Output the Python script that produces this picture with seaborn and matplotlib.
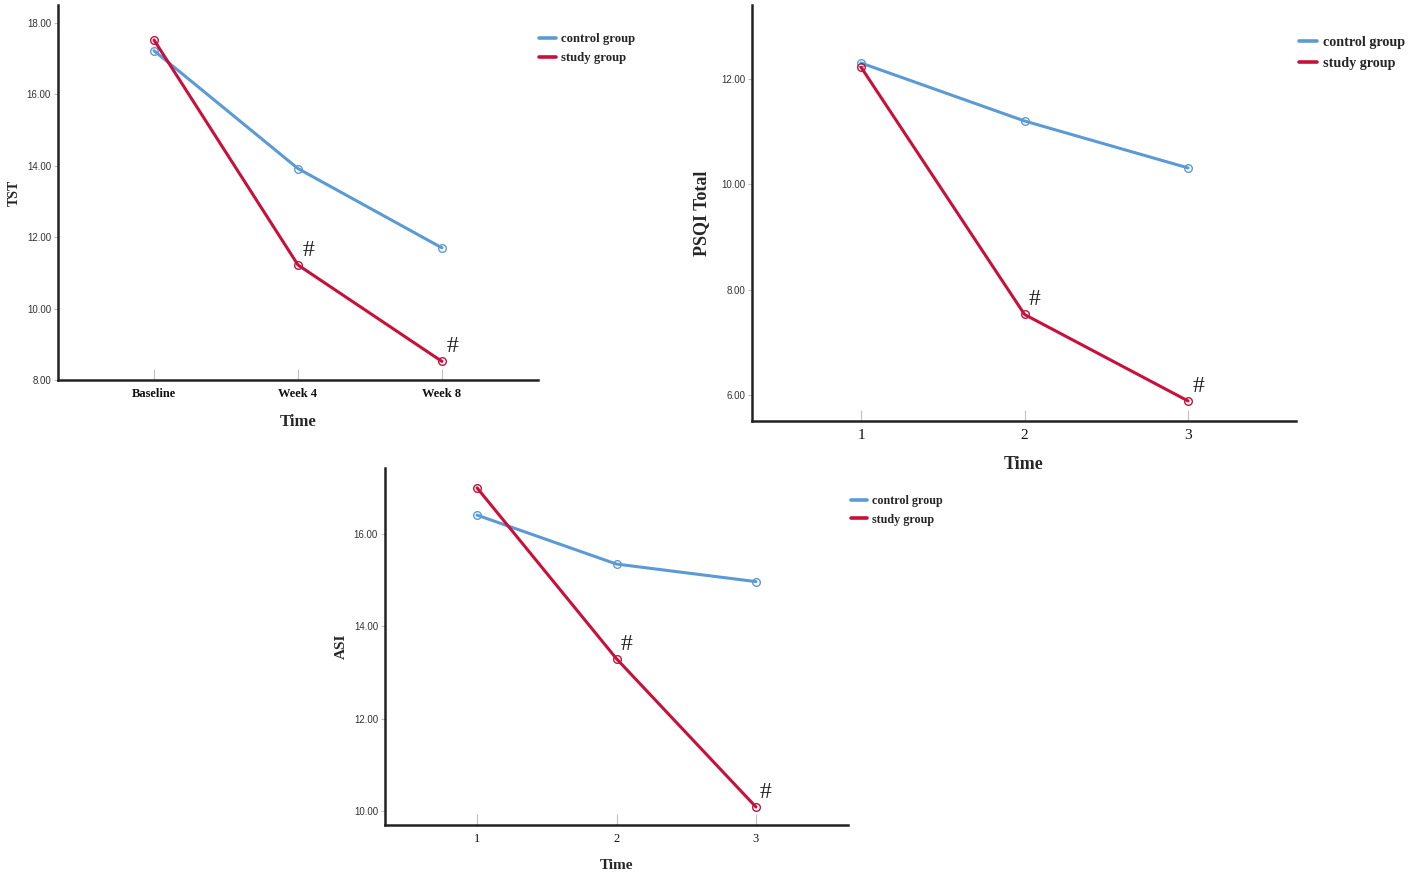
import matplotlib
matplotlib.use("Agg")
import matplotlib.pyplot as plt
import seaborn as sns
import pandas as pd

sns.set_style("white")
plt.rcParams['font.family'] = ['Liberation Serif', 'DejaVu Serif']

groups = ["control group", "study group"]
colors = {"control group": "#5b9bd5", "study group": "#c8103a"}

# Panel 1: TST
tst_time = ["Baseline", "Week 4", "Week 8"]
tst_control = [17.22, 13.92, 11.70]
tst_study = [17.52, 11.22, 8.52]

# Panel 2: PSQI Total
psqi_time = [1, 2, 3]
psqi_control = [12.30, 11.20, 10.31]
psqi_study = [12.22, 7.53, 5.89]

# Panel 3: ASI
asi_time = [1, 2, 3]
asi_control = [16.41, 15.35, 14.97]
asi_study = [17.00, 13.30, 10.09]

W, H = 1417, 874
fig = plt.figure(figsize=(W / 100, H / 100), dpi=100)

def px_axes(x0, y0, x1, y1):
    return fig.add_axes([x0 / W, 1 - y1 / H, (x1 - x0) / W, (y1 - y0) / H])

def make_df(times, ctrl, study):
    rows = []
    for t, v in zip(times, ctrl):
        rows.append({"Time": t, "value": v, "group": groups[0]})
    for t, v in zip(times, study):
        rows.append({"Time": t, "value": v, "group": groups[1]})
    return pd.DataFrame(rows)

def draw(ax, df, ylabel, xlim, ylim, yticks, tick_bold, xlabel_size, ylabel_size,
         xtick_size, legend_xy, legend_size, hashes, ylabelpad):
    sns.lineplot(data=df, x="Time", y="value", hue="group", palette=colors, ax=ax,
                 marker="o", markersize=5.5, markerfacecolor="none", markeredgewidth=1.0,
                 linewidth=2.2, legend=False, sort=False)
    for ln in ax.get_lines():
        ln.set_markeredgecolor(ln.get_color())
    ax.set_xlim(*xlim)
    ax.set_ylim(*ylim)
    ax.set_yticks(yticks)
    ax.set_yticklabels([f"{t:.2f}" for t in yticks], family="Liberation Sans",
                       fontsize=7, color="#333333")
    for lab in ax.get_xticklabels():
        lab.set_fontsize(xtick_size)
        lab.set_fontweight("bold" if tick_bold else "normal")
        lab.set_color("#111111")
    ax.set_xlabel("Time", fontsize=xlabel_size, fontweight="bold", labelpad=10)
    ax.set_ylabel(ylabel, fontsize=ylabel_size, fontweight="bold", labelpad=ylabelpad)
    for s in ["top", "right"]:
        ax.spines[s].set_visible(False)
    for s in ["left", "bottom"]:
        ax.spines[s].set_color("#222222")
        ax.spines[s].set_linewidth(1.8)
    ax.tick_params(axis="x", bottom=True, direction="in", length=8, width=0.8,
                   color="#c0c0c0", pad=6)
    ax.tick_params(axis="y", left=True, direction="out", length=3, width=0.8,
                   color="#c0c0c0", pad=2)
    ax.grid(False)
    handles = [plt.Line2D([], [], color=colors[g], lw=2.6) for g in groups]
    ax.legend(handles, groups, loc="upper left", bbox_to_anchor=legend_xy,
              bbox_transform=fig.transFigure, frameon=False, handlelength=1.3,
              handletextpad=0.4, labelspacing=0.55, borderaxespad=0, borderpad=0,
              prop={"family": "Liberation Serif", "weight": "bold", "size": legend_size})
    for (xv, yv) in hashes:
        ax.annotate("#", (xv, yv), xytext=(3, 3), textcoords="offset points",
                    fontsize=17, family="Liberation Serif", ha="left", va="bottom")

ax1 = px_axes(58, 5, 538, 380)
df1 = make_df(tst_time, tst_control, tst_study)
draw(ax1, df1, "TST", (-0.667, 2.667), (8.0, 18.5), [8, 10, 12, 14, 16, 18], True,
     12, 10, 9, (539 / W, 1 - 33 / H), 9.2,
     [(tst_time[1], tst_study[1]), (tst_time[2], tst_study[2])], 4)

ax2 = px_axes(752, 5, 1296, 421)
df2 = make_df(psqi_time, psqi_control, psqi_study)
draw(ax2, df2, "PSQI Total", (0.333, 3.66), (5.51, 13.4), [6, 8, 10, 12], False,
     13, 13, 11, (1299 / W, 1 - 36 / H), 10.2,
     [(psqi_time[1], psqi_study[1]), (psqi_time[2], psqi_study[2])], 8)
ax2.set_xticks(psqi_time)

ax3 = px_axes(385, 468, 848, 825)
df3 = make_df(asi_time, asi_control, asi_study)
draw(ax3, df3, "ASI", (0.34, 3.66), (9.7, 17.43), [10, 12, 14, 16], False,
     11, 11, 9, (851 / W, 1 - 495 / H), 8.7,
     [(asi_time[1], asi_study[1]), (asi_time[2], asi_study[2])], 4)
ax3.set_xticks(asi_time)

fig.savefig("out.png", dpi=100, facecolor="white")
